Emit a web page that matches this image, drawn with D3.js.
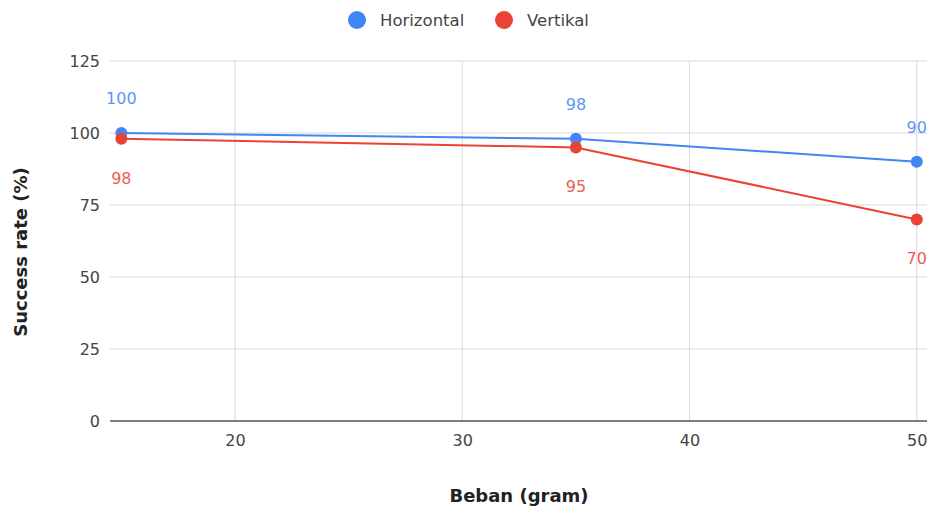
<!DOCTYPE html>
<html><head><meta charset="utf-8">
<script src="https://cdn.jsdelivr.net/npm/d3@7"></script>
<style>body{margin:0;background:#fff;font-family:"DejaVu Sans",sans-serif}</style>
</head><body><svg id="c" width="930" height="512"></svg>
<script>
const beban = [15, 35, 50];
const horizontal = [100, 98, 90];
const vertikal = [98, 95, 70];
const xTicks = [20, 30, 40, 50];
const yTicks = [0, 25, 50, 75, 100, 125];
const seriesNames = ["Horizontal", "Vertikal"];
const colors = ["#4285f4", "#ea4335"];

(function () {
const FONT = "'DejaVu Sans', sans-serif";
const svg = d3.select("#c").attr("font-family", FONT);
const mLeft = 110, mRight = 927, mTop = 61, mBottom = 421;
const x = d3.scaleLinear().domain([14.5, 50.45]).range([mLeft, mRight]);
const y = d3.scaleLinear().domain([0, 125]).range([mBottom, mTop]);

// gridlines
svg.append("g").selectAll("line").data(yTicks.filter(d => d > 0)).join("line")
  .attr("x1", mLeft).attr("x2", mRight).attr("y1", d => y(d)).attr("y2", d => y(d))
  .attr("stroke", "#d9d9d9").attr("stroke-width", 1);
svg.append("g").selectAll("line").data(xTicks).join("line")
  .attr("x1", d => x(d)).attr("x2", d => x(d)).attr("y1", mTop).attr("y2", mBottom)
  .attr("stroke", "#d9d9d9").attr("stroke-width", 1);

// axes with d3 axis
const yAxis = svg.append("g").attr("transform", `translate(${mLeft},0)`)
  .call(d3.axisLeft(y).tickValues(yTicks).tickSize(0).tickPadding(10));
yAxis.select(".domain").remove();
yAxis.selectAll("text").attr("font-size", 16).attr("fill", "#444").attr("font-family", FONT);

const xAxis = svg.append("g").attr("transform", `translate(0,${mBottom})`)
  .call(d3.axisBottom(x).tickValues(xTicks).tickSize(0).tickPadding(14));
xAxis.select(".domain").remove();
xAxis.selectAll("text").attr("font-size", 16).attr("fill", "#444").attr("font-family", FONT);

// baseline
svg.append("line").attr("x1", mLeft).attr("x2", mRight).attr("y1", y(0)).attr("y2", y(0))
  .attr("stroke", "#555").attr("stroke-width", 1.5);

// axis titles
svg.append("text").attr("x", 519).attr("y", 502).attr("text-anchor", "middle")
  .attr("font-size", 18).attr("font-weight", "bold").attr("fill", "#222").text("Beban (gram)");
svg.append("text").attr("transform", "translate(27,252) rotate(-90)").attr("text-anchor", "middle")
  .attr("font-size", 18).attr("font-weight", "bold").attr("fill", "#222").text("Success rate (%)");

// series
const data = [horizontal, vertikal];
const line = d3.line().x((d, i) => x(beban[i])).y(d => y(d));
data.forEach((vals, s) => {
  svg.append("path").datum(vals).attr("d", line).attr("fill", "none")
    .attr("stroke", colors[s]).attr("stroke-width", 2);
  svg.append("g").selectAll("circle").data(vals).join("circle")
    .attr("cx", (d, i) => x(beban[i])).attr("cy", d => y(d)).attr("r", 6).attr("fill", colors[s]);
  svg.append("g").selectAll("text").data(vals).join("text")
    .attr("x", (d, i) => x(beban[i])).attr("y", d => s === 0 ? y(d) - 29 : y(d) + 45)
    .attr("text-anchor", "middle").attr("font-size", 16).attr("fill", colors[s]).attr("opacity", 0.85)
    .text(d => d);
});

// legend
const legX = [357, 504];
seriesNames.forEach((n, i) => {
  svg.append("circle").attr("cx", legX[i]).attr("cy", 20).attr("r", 9).attr("fill", colors[i]);
  svg.append("text").attr("x", legX[i] + 23).attr("y", 26).attr("font-size", 16.5).attr("fill", "#444").text(n);
});
})();
</script></body></html>
